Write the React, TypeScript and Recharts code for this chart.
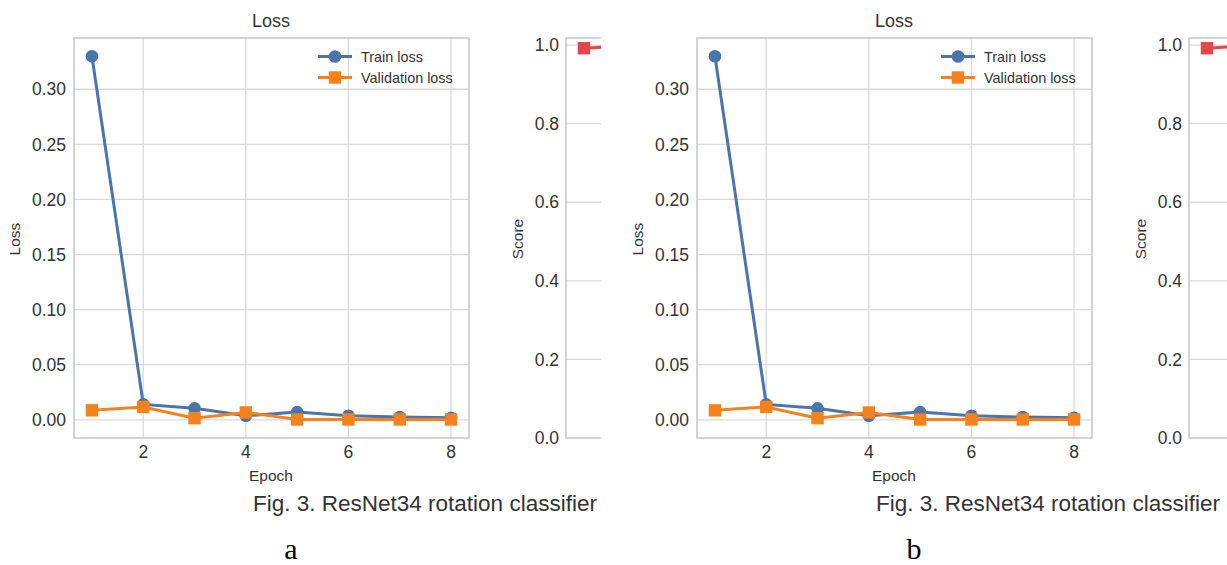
import {
    LineChart,
    Line,
    XAxis,
    YAxis,
    CartesianGrid,
    Legend,
    ReferenceArea,
} from "recharts";

// values (both panels show the same run)
const epochs = [1, 2, 3, 4, 5, 6, 7, 8];
const trainLoss = [0.33, 0.014, 0.0104, 0.0037, 0.007, 0.0037, 0.0025, 0.0018];
const valLoss = [0.0086, 0.0117, 0.0015, 0.0067, 0.0003, 0.0003, 0.0003, 0.0003];
const valScore = [0.992, 1.0, 1.0, 1.0, 1.0, 1.0, 1.0, 1.0];

const epochTicks = [2, 4, 6, 8];
const lossTicks = [0, 0.05, 0.1, 0.15, 0.2, 0.25, 0.3];
const scoreTicks = [0, 0.2, 0.4, 0.6, 0.8, 1.0];

const lossData = epochs.map((epoch, i) => ({ epoch, train: trainLoss[i], val: valLoss[i] }));
const scoreData = epochs.map((epoch, i) => ({ epoch, score: valScore[i] }));

const BLUE = "#4a74ab";
const ORANGE = "#f6821f";
const RED = "#e0474c";
const GRID = "#dadada";
const FRAME = "#cfcfcf";
const TEXT = "#333333";
const FONT = '"Liberation Sans", Arial, sans-serif';

const X_DOMAIN: [number, number] = [0.65, 8.35];
const LOSS_DOMAIN: [number, number] = [-0.0165, 0.3465];
const SCORE_DOMAIN: [number, number] = [0, 1.018];

const tickStyle = { fill: TEXT, fontSize: 17.5, fontFamily: FONT };

function squareDot(color: string, size: number) {
    return (props: any) => {
        const { cx, cy, index } = props;
        if (cx == null || cy == null) return <g key={`e-${index}`} />;
        return (
            <rect
                key={`sq-${index}`}
                x={cx - size / 2}
                y={cy - size / 2}
                width={size}
                height={size}
                fill={color}
            />
        );
    };
}

function LossLegend() {
    const rows = [
        { name: "Train loss", color: BLUE, shape: "circle" },
        { name: "Validation loss", color: ORANGE, shape: "square" },
    ];
    return (
        <div style={{ fontFamily: FONT }}>
            {rows.map((r) => (
                <div key={r.name} style={{ display: "flex", alignItems: "center", height: 21 }}>
                    <svg width={34} height={21}>
                        <line x1={0} x2={34} y1={10.5} y2={10.5} stroke={r.color} strokeWidth={3} />
                        {r.shape === "circle" ? (
                            <circle cx={17} cy={10.5} r={6.3} fill={r.color} />
                        ) : (
                            <rect x={10.8} y={4.3} width={12.4} height={12.4} fill={r.color} />
                        )}
                    </svg>
                    <span style={{ marginLeft: 9, fontSize: 14.4, color: TEXT, whiteSpace: "nowrap" }}>
                        {r.name}
                    </span>
                </div>
            ))}
        </div>
    );
}

const abs = (left: number, top: number, extra: any = {}) => ({
    position: "absolute" as const,
    left,
    top,
    fontFamily: FONT,
    color: TEXT,
    whiteSpace: "nowrap" as const,
    ...extra,
});

function Panel({ left, width, letter }: { left: number; width: number; letter: string }) {
    return (
        <div style={{ position: "absolute", left, top: 0, width, height: 565, overflow: "hidden" }}>
            {/* Loss chart */}
            <div style={{ position: "absolute", left: 0, top: 0 }}>
                <LineChart
                    width={480}
                    height={480}
                    data={lossData}
                    margin={{ top: 38, right: 11, bottom: 12, left: 0 }}
                >
                    <CartesianGrid stroke={GRID} strokeWidth={1.3} />
                    <ReferenceArea
                        x1={X_DOMAIN[0]}
                        x2={X_DOMAIN[1]}
                        y1={LOSS_DOMAIN[0]}
                        y2={LOSS_DOMAIN[1]}
                        fill="none"
                        stroke={FRAME}
                        strokeWidth={1.6}
                        ifOverflow="visible"
                    />
                    <XAxis
                        dataKey="epoch"
                        type="number"
                        domain={X_DOMAIN}
                        ticks={epochTicks}
                        allowDataOverflow
                        axisLine={false}
                        tickLine={false}
                        tickSize={0}
                        tickMargin={8}
                        height={30}
                        tick={tickStyle}
                    />
                    <YAxis
                        type="number"
                        domain={LOSS_DOMAIN}
                        ticks={lossTicks}
                        allowDataOverflow
                        width={74}
                        axisLine={false}
                        tickLine={false}
                        tickSize={0}
                        tickMargin={8}
                        tick={tickStyle}
                        tickFormatter={(v: number) => v.toFixed(2)}
                    />
                    <Line
                        dataKey="train"
                        stroke={BLUE}
                        strokeWidth={3}
                        dot={{ r: 6.3, fill: BLUE, stroke: "none" }}
                        isAnimationActive={false}
                    />
                    <Line
                        dataKey="val"
                        stroke={ORANGE}
                        strokeWidth={3}
                        dot={squareDot(ORANGE, 12.4)}
                        isAnimationActive={false}
                    />
                    <Legend
                        layout="vertical"
                        align="center"
                        verticalAlign="middle"
                        content={<LossLegend />}
                        wrapperStyle={{ left: 318, top: 46, width: "auto", height: "auto" }}
                    />
                </LineChart>
            </div>
            <div style={abs(271, 11, { fontSize: 18, transform: "translateX(-50%)" })}>Loss</div>
            <div style={abs(271, 467, { fontSize: 15.5, transform: "translateX(-50%)" })}>Epoch</div>
            <div
                style={abs(15, 239, {
                    fontSize: 15.5,
                    transform: "translate(-50%, -50%) rotate(-90deg)",
                })}
            >
                Loss
            </div>

            {/* Score chart (cut by the figure edge, so its epoch ticks fall outside) */}
            <div style={{ position: "absolute", left: 506, top: 0 }}>
                <LineChart
                    width={466}
                    height={480}
                    data={scoreData}
                    margin={{ top: 38, right: 11, bottom: 12, left: 0 }}
                >
                    <CartesianGrid stroke={GRID} strokeWidth={1.3} />
                    <ReferenceArea
                        x1={X_DOMAIN[0]}
                        x2={X_DOMAIN[1]}
                        y1={SCORE_DOMAIN[0]}
                        y2={SCORE_DOMAIN[1]}
                        fill="none"
                        stroke={FRAME}
                        strokeWidth={1.6}
                        ifOverflow="visible"
                    />
                    <XAxis
                        dataKey="epoch"
                        type="number"
                        domain={X_DOMAIN}
                        ticks={epochTicks}
                        allowDataOverflow
                        axisLine={false}
                        tickLine={false}
                        tick={false}
                        height={30}
                    />
                    <YAxis
                        type="number"
                        domain={SCORE_DOMAIN}
                        ticks={scoreTicks}
                        allowDataOverflow
                        width={60}
                        axisLine={false}
                        tickLine={false}
                        tickSize={0}
                        tickMargin={7}
                        tick={tickStyle}
                        tickFormatter={(v: number) => v.toFixed(1)}
                    />
                    <Line
                        dataKey="score"
                        stroke={RED}
                        strokeWidth={3}
                        dot={squareDot(RED, 12.4)}
                        isAnimationActive={false}
                    />
                </LineChart>
            </div>
            <div
                style={abs(518, 239, {
                    fontSize: 15.5,
                    transform: "translate(-50%, -50%) rotate(-90deg)",
                })}
            >
                Score
            </div>

            {/* caption and panel letter */}
            <div style={abs(253, 491, { fontSize: 22.5 })}>Fig. 3. ResNet34 rotation classifier</div>
            <div
                style={abs(291, 532, {
                    fontSize: 30,
                    fontFamily: '"Liberation Serif", "Times New Roman", serif',
                    color: "#000",
                    transform: "translateX(-50%)",
                })}
            >
                {letter}
            </div>
        </div>
    );
}

export default function App() {
    return (
        <div
            style={{
                position: "absolute",
                left: 0,
                top: 0,
                width: 1227,
                height: 565,
                overflow: "hidden",
                background: "#ffffff",
            }}
        >
            <Panel left={0} width={601} letter="a" />
            <Panel left={623} width={604} letter="b" />
        </div>
    );
}
